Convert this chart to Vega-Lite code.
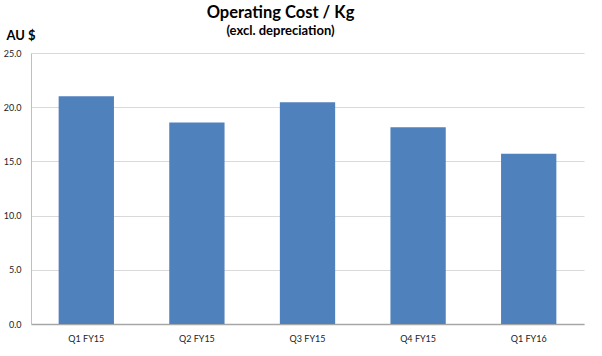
{
  "$schema": "https://vega.github.io/schema/vega-lite/v6.json",
  "width": 553,
  "height": 271,
  "autosize": "none",
  "padding": {"left": 31, "top": 53, "right": 18, "bottom": 32},
  "background": "white",
  "title": {
    "text": "Operating Cost / Kg",
    "subtitle": "(excl. depreciation)",
    "anchor": "middle",
    "frame": "group",
    "dx": -27,
    "font": "Lato",
    "fontSize": 16.5,
    "fontWeight": "bold",
    "color": "#000000",
    "subtitleFont": "Lato",
    "subtitleFontSize": 13,
    "subtitleFontWeight": "bold",
    "subtitleColor": "#000000",
    "subtitlePadding": 4,
    "offset": -9
  },
  "data": {
    "values": [
      {"quarter": "Q1 FY15", "cost": 21.0},
      {"quarter": "Q2 FY15", "cost": 18.6},
      {"quarter": "Q3 FY15", "cost": 20.45},
      {"quarter": "Q4 FY15", "cost": 18.15},
      {"quarter": "Q1 FY16", "cost": 15.7}
    ]
  },
  "mark": {"type": "bar", "color": "#4F81BD"},
  "encoding": {
    "x": {
      "field": "quarter",
      "type": "nominal",
      "sort": null,
      "scale": {"paddingInner": 0.5, "paddingOuter": 0.25},
      "axis": {
        "title": null,
        "labelAngle": 0,
        "labelFont": "Lato",
        "labelFontSize": 9,
        "labelColor": "#222222",
        "labelPadding": 10,
        "ticks": false,
        "domainColor": "#a6a6a6",
        "domainWidth": 1.5
      }
    },
    "y": {
      "field": "cost",
      "type": "quantitative",
      "scale": {"domain": [0, 25], "nice": false},
      "axis": {
        "title": "AU $",
        "titleAngle": 0,
        "titleAlign": "left",
        "titleBaseline": "alphabetic",
        "titleX": -25,
        "titleY": -14,
        "titleFont": "Lato",
        "titleFontSize": 13,
        "titleFontWeight": "bold",
        "titleColor": "#000000",
        "values": [0, 5, 10, 15, 20, 25],
        "format": ".1f",
        "labelFont": "Lato",
        "labelFontSize": 9,
        "labelColor": "#222222",
        "labelPadding": 10,
        "ticks": false,
        "grid": true,
        "gridColor": "#d9d9d9",
        "domainColor": "#bfbfbf"
      }
    }
  },
  "config": {"view": {"stroke": null}}
}
